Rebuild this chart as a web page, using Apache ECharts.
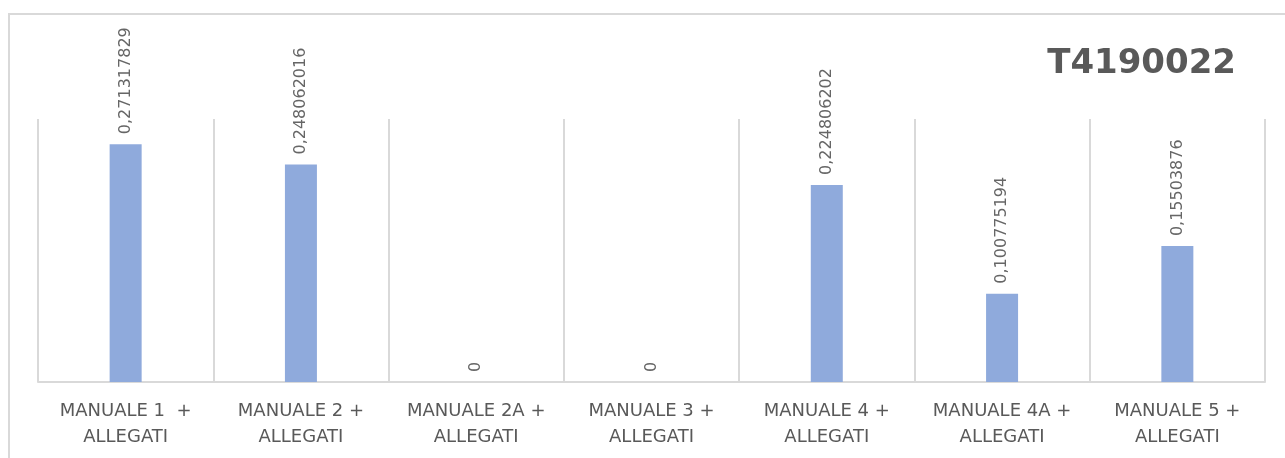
<!DOCTYPE html>
<html style="height: 100%">
<head>
    <meta charset="utf-8">
    <script src="https://cdn.jsdelivr.net/npm/echarts@6/dist/echarts.min.js"></script>
</head>
<body style="height: 100%; margin: 0; background: #fff">
<div id="container" style="width: 1285px; height: 458px"></div>
<script type="text/javascript">
    // dati del grafico
    var chartTitle = 'T4190022';
    var categories = [
        'MANUALE 1  +\nALLEGATI',
        'MANUALE 2 +\nALLEGATI',
        'MANUALE 2A +\nALLEGATI',
        'MANUALE 3 +\nALLEGATI',
        'MANUALE 4 +\nALLEGATI',
        'MANUALE 4A +\nALLEGATI',
        'MANUALE 5 +\nALLEGATI'
    ];
    var values = [0.271317829, 0.248062016, 0, 0, 0.224806202, 0.100775194, 0.15503876];

    var dom = document.getElementById("container");
    var myChart = echarts.init(dom);
    var gray = '#d9d9d9';

    var option = {
        animation: false,
        title: {
            text: chartTitle,
            right: 44,
            top: 42,
            textStyle: {
                fontFamily: 'DejaVu Sans',
                fontWeight: 'bold',
                fontSize: 34,
                color: '#595959'
            }
        },
        graphic: [{
            type: 'polyline',
            shape: { points: [[9, 458], [9, 14], [1285, 14]] },
            style: { stroke: gray, lineWidth: 2, fill: null },
            silent: true
        }],
        grid: {
            left: 38,
            right: 20,
            top: 119,
            bottom: 76
        },
        xAxis: {
            type: 'category',
            data: categories,
            axisLine: { lineStyle: { color: gray, width: 2 } },
            axisTick: { show: false },
            splitLine: { show: true, interval: 0, lineStyle: { color: gray, width: 2 } },
            axisLabel: {
                interval: 0,
                margin: 16,
                color: '#595959',
                fontFamily: 'DejaVu Sans',
                fontSize: 18,
                lineHeight: 26
            }
        },
        yAxis: {
            type: 'value',
            min: 0,
            max: 0.3,
            show: false,
            splitLine: { show: false }
        },
        series: [{
            type: 'bar',
            data: values,
            barWidth: 32,
            itemStyle: { color: '#8faadc' },
            label: {
                show: true,
                position: 'top',
                rotate: 90,
                align: 'left',
                verticalAlign: 'middle',
                distance: 10,
                color: '#666666',
                fontFamily: 'DejaVu Sans',
                fontSize: 16,
                formatter: function (p) {
                    return String(p.value).replace('.', ',');
                }
            }
        }]
    };

    myChart.setOption(option, true);
</script>
</body>
</html>
